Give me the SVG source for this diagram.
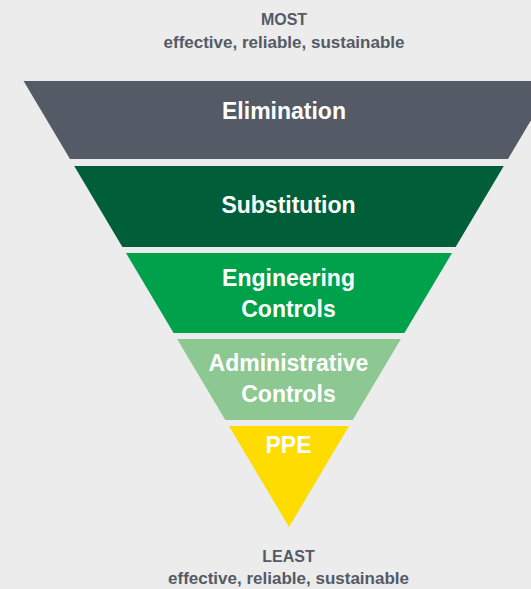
<svg xmlns="http://www.w3.org/2000/svg" width="531" height="589" viewBox="0 0 531 589">
<style>
.lbl{font-family:"Liberation Sans",Arial,sans-serif;font-weight:bold;font-size:23px;fill:#ffffff;text-anchor:middle}
.cap{font-family:"Liberation Sans",Arial,sans-serif;font-weight:bold;fill:#545a66;text-anchor:middle}
</style>
<rect x="0" y="0" width="531" height="589" fill="#ececec"/>
<g id="top-caption">
<text class="cap" x="284" y="25" font-size="16">MOST</text>
<text class="cap" x="284" y="48" font-size="17">effective, reliable, sustainable</text>
</g>
<g id="elimination">
<polygon points="23.6,81 554.4,81 508,159 70,159" fill="#545a66"/>
<text class="lbl" x="284" y="119">Elimination</text>
</g>
<g id="substitution">
<polygon points="74.2,166 503.8,166 455.6,247 122.4,247" fill="#005f39"/>
<text class="lbl" x="288.5" y="213">Substitution</text>
</g>
<g id="engineering">
<polygon points="126,253 452,253 404.4,333 173.6,333" fill="#00a14b"/>
<text class="lbl" x="288.5" y="286">Engineering</text>
<text class="lbl" x="288.5" y="316.5">Controls</text>
</g>
<g id="administrative">
<polygon points="177.1,339 400.9,339 352.7,420 225.3,420" fill="#8dc892"/>
<text class="lbl" x="288.5" y="370.5">Administrative</text>
<text class="lbl" x="288.5" y="401.5">Controls</text>
</g>
<g id="ppe">
<polygon points="228.9,426 349.1,426 289,527" fill="#ffdc00"/>
<text class="lbl" x="288.5" y="453">PPE</text>
</g>
<g id="bottom-caption">
<text class="cap" x="288.5" y="561.5" font-size="16">LEAST</text>
<text class="cap" x="288.5" y="584" font-size="17">effective, reliable, sustainable</text>
</g>
<g id="connectors"></g>
</svg>
